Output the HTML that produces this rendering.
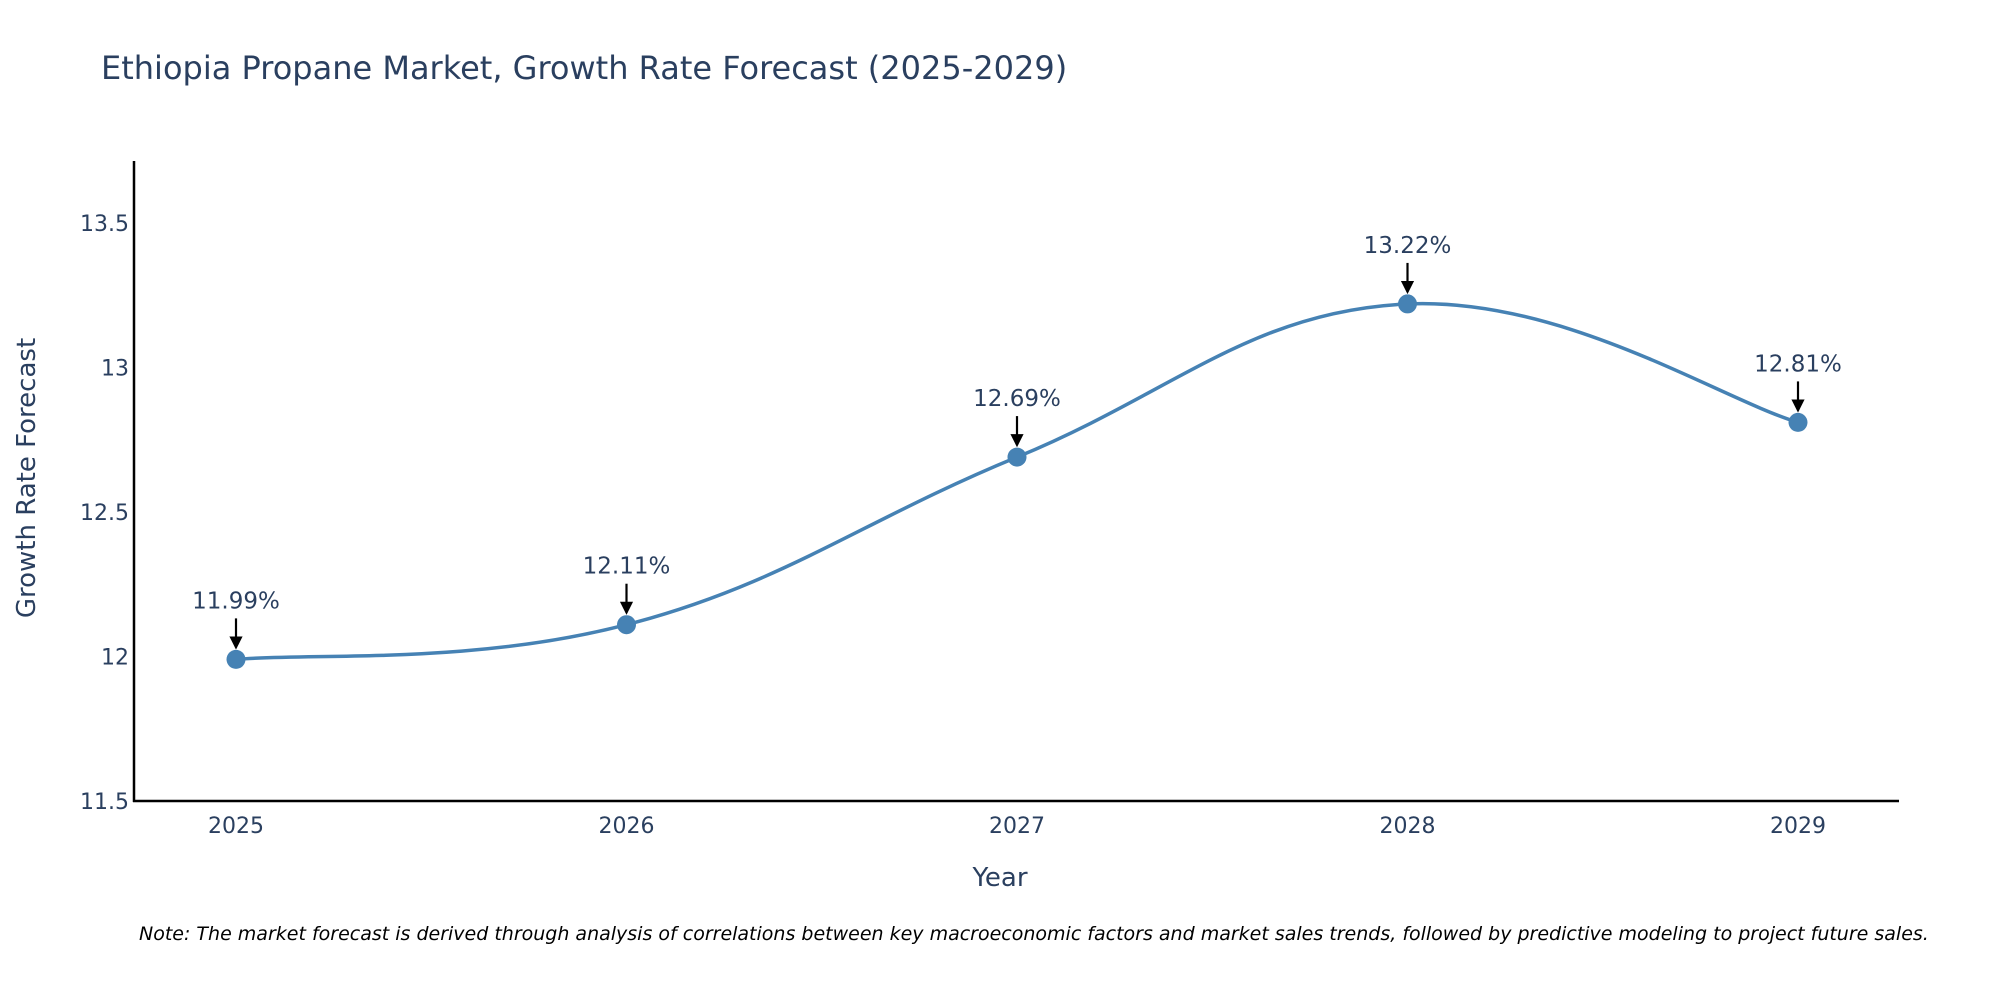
<!DOCTYPE html>
<html><head><meta charset="utf-8"><style>
body{margin:0;background:#fff;}
svg{display:block;font-family:"DejaVu Sans","Liberation Sans",sans-serif;}
</style></head><body>
<svg id="chart" width="2000" height="1000">
<text x="101" y="79" font-size="32" fill="#2a3f5f">Ethiopia Propane Market, Growth Rate Forecast (2025-2029)</text>
<g id="yticks"></g>
<g id="xticks"></g>
<line x1="134" y1="161" x2="134" y2="802" stroke="#000" stroke-width="2.5"/>
<line x1="133" y1="801" x2="1899" y2="801" stroke="#000" stroke-width="2.5"/>
<path id="line" fill="none" stroke="#4682b4" stroke-width="3.5"/>
<g id="points"></g>
<text x="1000" y="886" font-size="26" fill="#2a3f5f" text-anchor="middle">Year</text>
<text transform="translate(35,478) rotate(-90)" font-size="26" fill="#2a3f5f" text-anchor="middle">Growth Rate Forecast</text>
<text x="139" y="940" font-size="19" font-style="italic" fill="#000">Note: The market forecast is derived through analysis of correlations between key macroeconomic factors and market sales trends, followed by predictive modeling to project future sales.</text>
<defs><marker id="ah" markerWidth="6" markerHeight="6" refX="5" refY="3" orient="auto"><path d="M0,0 L6,3 L0,6 z" fill="#000"/></marker></defs>
</svg>
<script>
const years=[2025,2026,2027,2028,2029];
const values=[11.99,12.11,12.69,13.22,12.81];
const yTickLabels=["11.5","12","12.5","13","13.5"];
const yTickValues=[11.5,12,12.5,13,13.5];
const NS="http://www.w3.org/2000/svg";
const X=y=>236+(y-2025)*390.5;
const Y=v=>801-(v-11.5)*289;
const svg=document.getElementById('chart');
function mk(t,a,p){const e=document.createElementNS(NS,t);for(const k in a)e.setAttribute(k,a[k]);p.appendChild(e);return e;}
const yt=document.getElementById('yticks');
yTickValues.forEach((v,i)=>{const t=mk('text',{x:129,y:Y(v)+8,'font-size':22,fill:'#2a3f5f','text-anchor':'end'},yt);t.textContent=yTickLabels[i];

});
const xt=document.getElementById('xticks');
years.forEach(y=>{const t=mk('text',{x:X(y),y:833,'font-size':22,fill:'#2a3f5f','text-anchor':'middle'},xt);t.textContent=y;

});
const pts=years.map((y,i)=>[X(y),Y(values[i])]);
let d='M'+pts[0].join(',');const s=0.2;
for(let i=0;i<pts.length-1;i++){const p0=pts[i-1]||pts[i],p1=pts[i],p2=pts[i+1],p3=pts[i+2]||pts[i+1];
d+=` C${p1[0]+(p2[0]-p0[0])*s},${p1[1]+(p2[1]-p0[1])*s} ${p2[0]-(p3[0]-p1[0])*s},${p2[1]-(p3[1]-p1[1])*s} ${p2[0]},${p2[1]}`;}
document.getElementById('line').setAttribute('d',d);
const pg=document.getElementById('points');
pts.forEach((p,i)=>{const c=mk('circle',{cx:p[0],cy:p[1],r:9.5,fill:'#4682b4'},pg);


const a=mk('line',{x1:p[0],y1:p[1]-41,x2:p[0],y2:p[1]-12,stroke:'#000','stroke-width':2.2,'marker-end':'url(#ah)'},pg);


const t=mk('text',{x:p[0],y:p[1]-51,'font-size':23,fill:'#2a3f5f','text-anchor':'middle'},pg);t.textContent=values[i].toFixed(2)+'%';

});
</script>
</body></html>
